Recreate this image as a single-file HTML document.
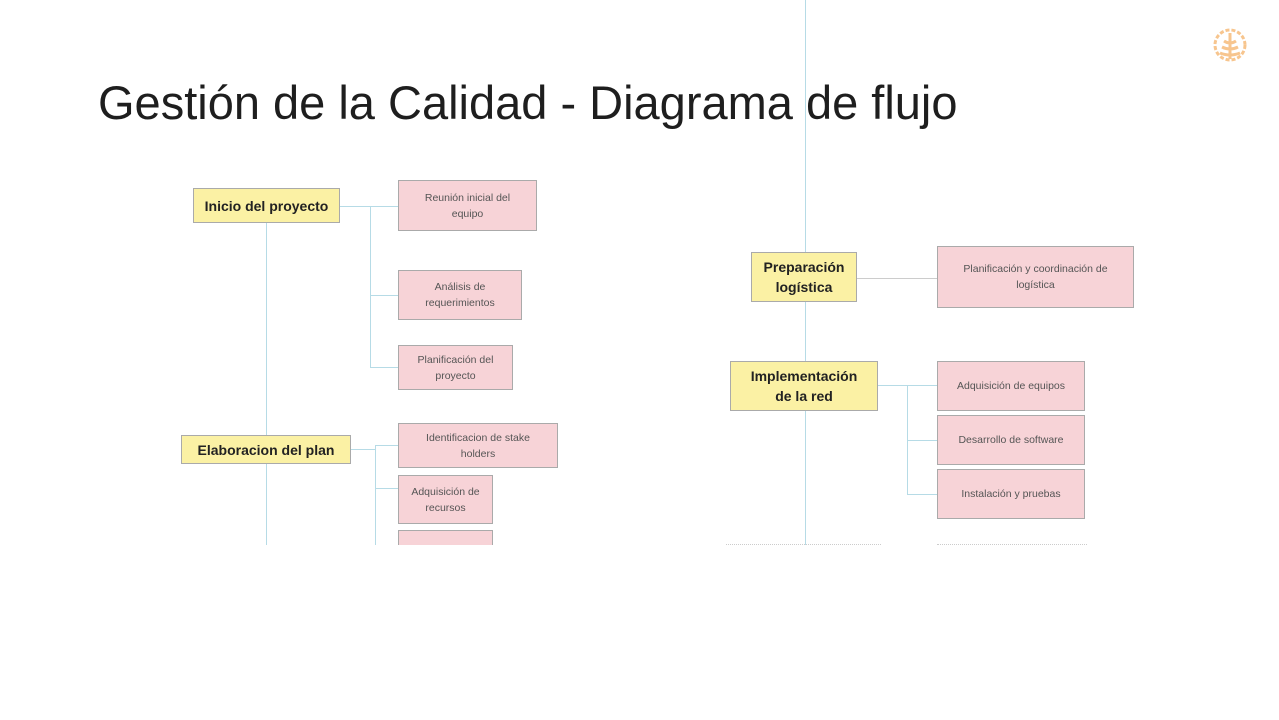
<!DOCTYPE html>
<html><head><meta charset="utf-8"><style>
body{margin:0;width:1279px;height:720px;background:#fff;position:relative;overflow:hidden;font-family:"Liberation Sans",sans-serif}
.t{position:absolute;left:98px;top:75px;font-size:47px;color:#1e1e1e;white-space:nowrap}
.y{position:absolute;background:#fbf1a4;border:1px solid #aaa;box-sizing:border-box;display:flex;align-items:center;justify-content:center;text-align:center;font-weight:bold;font-size:14px;color:#222;line-height:20px}
.p{position:absolute;background:#f7d3d7;border:1px solid #aaa;box-sizing:border-box;display:flex;align-items:center;justify-content:center;text-align:center;font-size:10.5px;color:#555;line-height:16px;padding:0 14px}
.l{position:absolute;background:#b6dbe6}
</style></head><body>
<div class="t">Gestión de la Calidad - Diagrama de flujo</div>
<svg style="position:absolute;left:1210px;top:25px" width="40" height="40" viewBox="0 0 40 40"><g fill="none" stroke="#f7c58e" stroke-width="3"><circle cx="20" cy="20" r="15" stroke-dasharray="4 2"/><path d="M20 8v26M12 22q8 4 16 0M10 28q10 4 20 0M14 16q6 4 12 0"/></g></svg>
<div class="l" style="left:266px;top:223px;width:1px;height:322px"></div>
<div class="l" style="left:340px;top:206px;width:58px;height:1px"></div>
<div class="l" style="left:370px;top:206px;width:1px;height:162px"></div>
<div class="l" style="left:370px;top:295px;width:28px;height:1px"></div>
<div class="l" style="left:370px;top:367px;width:28px;height:1px"></div>
<div class="l" style="left:351px;top:449px;width:24px;height:1px"></div>
<div class="l" style="left:375px;top:445px;width:1px;height:100px"></div>
<div class="l" style="left:375px;top:445px;width:23px;height:1px"></div>
<div class="l" style="left:375px;top:488px;width:23px;height:1px"></div>
<div class="l" style="left:805px;top:0;width:1px;height:545px"></div>
<div class="l" style="left:857px;top:278px;width:80px;height:1px;background:#ccc"></div>
<div class="l" style="left:878px;top:385px;width:59px;height:1px"></div>
<div class="l" style="left:907px;top:385px;width:1px;height:110px"></div>
<div class="l" style="left:907px;top:440px;width:30px;height:1px"></div>
<div class="l" style="left:907px;top:494px;width:30px;height:1px"></div>
<div style="position:absolute;left:726px;top:544px;width:155px;border-top:1px dotted #ccc"></div>
<div style="position:absolute;left:937px;top:544px;width:150px;border-top:1px dotted #ccc"></div>
<div class="y" style="left:193px;top:188px;width:147px;height:35px">Inicio del proyecto</div>
<div class="p" style="left:398px;top:180px;width:139px;height:51px;padding:0 20px">Reunión inicial del equipo</div>
<div class="p" style="left:398px;top:270px;width:124px;height:50px">Análisis de requerimientos</div>
<div class="p" style="left:398px;top:345px;width:115px;height:45px">Planificación del proyecto</div>
<div class="y" style="left:181px;top:435px;width:170px;height:29px">Elaboracion del plan</div>
<div class="p" style="left:398px;top:423px;width:160px;height:45px;padding:0 18px">Identificacion de stake holders</div>
<div class="p" style="left:398px;top:475px;width:95px;height:49px;padding:0 4px">Adquisición de recursos</div>
<div class="p" style="left:398px;top:530px;width:95px;height:15px;border-bottom:none"></div>
<div class="y" style="left:751px;top:252px;width:106px;height:50px">Preparación logística</div>
<div class="p" style="left:937px;top:246px;width:197px;height:62px;padding:0 24px">Planificación y coordinación de logística</div>
<div class="y" style="left:730px;top:361px;width:148px;height:50px;padding:0 12px">Implementación de la red</div>
<div class="p" style="left:937px;top:361px;width:148px;height:50px">Adquisición de equipos</div>
<div class="p" style="left:937px;top:415px;width:148px;height:50px">Desarrollo de software</div>
<div class="p" style="left:937px;top:469px;width:148px;height:50px">Instalación y pruebas</div>
</body></html>
